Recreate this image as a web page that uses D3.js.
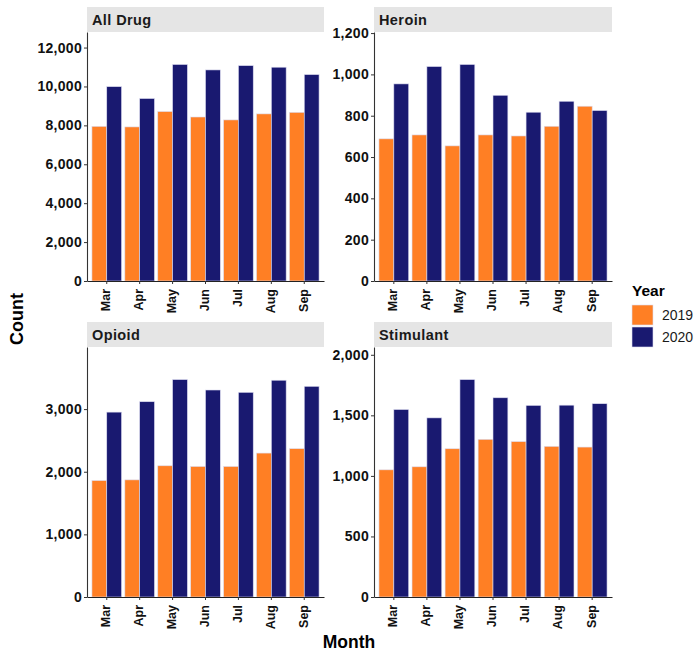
<!DOCTYPE html>
<html>
<head>
<meta charset="utf-8">
<script src="https://cdn.jsdelivr.net/npm/d3@7"></script>
<style>
  body { margin: 0; background: #fff; }
  svg { display: block; font-family: "Liberation Sans", Arial, sans-serif; }
</style>
</head>
<body>
<svg width="694" height="653"></svg>
<script>
const months = ['Mar', 'Apr', 'May', 'Jun', 'Jul', 'Aug', 'Sep'];
const years = ['2019', '2020'];
const panelNames = ['All Drug', 'Heroin', 'Opioid', 'Stimulant'];

const allDrug2019 = [7950, 7920, 8710, 8430, 8280, 8590, 8670];
const allDrug2020 = [9990, 9380, 11130, 10850, 11070, 10990, 10610];
const heroin2019 = [688, 707, 654, 707, 702, 749, 846];
const heroin2020 = [954, 1038, 1048, 899, 817, 870, 825];
const opioid2019 = [1859, 1870, 2095, 2084, 2084, 2298, 2368];
const opioid2020 = [2952, 3118, 3471, 3305, 3268, 3461, 3364];
const stimulant2019 = [1050, 1075, 1224, 1302, 1283, 1244, 1238];
const stimulant2020 = [1548, 1479, 1795, 1645, 1582, 1584, 1596];

const allDrugTicks = [0, 2000, 4000, 6000, 8000, 10000, 12000];
const heroinTicks = [0, 200, 400, 600, 800, 1000, 1200];
const opioidTicks = [0, 1000, 2000, 3000];
const stimulantTicks = [0, 500, 1000, 1500, 2000];

const colors = ['#FF7F24', '#191970'];

const svg = d3.select('svg');
const fmt = d3.format(',');
const font = '"Liberation Sans", Arial, sans-serif';

// panel boxes: plot area, strip sits above
const boxes = [
  { x0: 87, x1: 324, y0: 32, y1: 281 },
  { x0: 374, x1: 612, y0: 32, y1: 281 },
  { x0: 87, x1: 324, y0: 347, y1: 597 },
  { x0: 374, x1: 612, y0: 347, y1: 597 }
];
const series = [
  [allDrug2019, allDrug2020, allDrugTicks],
  [heroin2019, heroin2020, heroinTicks],
  [opioid2019, opioid2020, opioidTicks],
  [stimulant2019, stimulant2020, stimulantTicks]
];

panelNames.forEach((name, i) => {
  const b = boxes[i];
  const [v19, v20, ticks] = series[i];
  const rows = months.map((m, j) => ({ month: m, values: [v19[j], v20[j]] }));

  const x = d3.scaleBand().domain(months).range([b.x0, b.x1])
    .paddingInner(0.1).paddingOuter(0.15);
  const xSub = d3.scaleBand().domain(years).range([0, x.bandwidth()]);
  const y = d3.scaleLinear().domain([0, d3.max(v20.concat(v19)) * 1.15]).range([b.y1, b.y0]);

  // strip
  svg.append('rect')
    .attr('x', b.x0).attr('y', b.y0 - 25)
    .attr('width', b.x1 - b.x0).attr('height', 25)
    .attr('fill', '#e5e5e5');
  svg.append('text')
    .attr('x', b.x0 + 5).attr('y', b.y0 - 12.5)
    .attr('dy', '0.35em')
    .attr('font-size', 14.5).attr('font-weight', 'bold')
    .attr('letter-spacing', 0.4)
    .attr('fill', '#1a1a1a')
    .text(name);

  // bars
  const g = svg.append('g');
  g.selectAll('g').data(rows).join('g')
    .attr('transform', d => `translate(${x(d.month)},0)`)
    .selectAll('rect')
    .data(d => d.values.map((v, k) => ({ year: years[k], value: v, k })))
    .join('rect')
    .attr('x', d => xSub(d.year))
    .attr('y', d => y(d.value))
    .attr('width', xSub.bandwidth())
    .attr('height', d => y(0) - y(d.value))
    .attr('fill', d => colors[d.k])
    .attr('stroke', '#dcdcf0')
    .attr('stroke-width', 0.6);

  // y axis
  const ya = svg.append('g')
    .attr('transform', `translate(${b.x0},0)`)
    .call(d3.axisLeft(y).tickValues(ticks).tickFormat(fmt).tickSize(3).tickSizeOuter(0));
  ya.select('.domain').attr('stroke', '#333').attr('stroke-width', 1.1);
  ya.selectAll('.tick line').attr('stroke', '#333');
  ya.selectAll('.tick text')
    .attr('x', -5)
    .attr('font-size', 14).attr('font-weight', 'bold')
    .attr('letter-spacing', 0.3)
    .attr('fill', '#111')
    .attr('font-family', font);

  // x axis
  const xa = svg.append('g')
    .attr('transform', `translate(0,${b.y1})`)
    .call(d3.axisBottom(x).tickSize(3).tickSizeOuter(0));
  xa.select('.domain').attr('stroke', '#222').attr('stroke-width', 1.1);
  xa.selectAll('.tick line').attr('stroke', '#333');
  xa.selectAll('.tick text')
    .attr('transform', 'rotate(-90)')
    .attr('x', -8).attr('y', -1).attr('dy', '0.35em')
    .attr('text-anchor', 'end')
    .attr('font-size', 12.5).attr('font-weight', 'bold')
    .attr('fill', '#111')
    .attr('font-family', font);
});

// axis titles
svg.append('text')
  .attr('transform', 'translate(17,319) rotate(-90)')
  .attr('text-anchor', 'middle').attr('dy', '0.35em')
  .attr('font-size', 18).attr('font-weight', 'bold')
  .text('Count');
svg.append('text')
  .attr('x', 349).attr('y', 648)
  .attr('text-anchor', 'middle')
  .attr('font-size', 17.5).attr('font-weight', 'bold')
  .text('Month');

// legend
const legend = svg.append('g').attr('transform', 'translate(632,0)');
legend.append('text')
  .attr('x', 0).attr('y', 296)
  .attr('font-size', 15.5).attr('font-weight', 'bold')
  .text('Year');
const items = legend.selectAll('g.item').data(years).join('g')
  .attr('class', 'item')
  .attr('transform', (d, i) => `translate(0,${305 + i * 22})`);
items.append('rect')
  .attr('width', 21).attr('height', 20)
  .attr('fill', (d, i) => colors[i])
  .attr('stroke', '#dcdcf0').attr('stroke-width', 0.6);
items.append('text')
  .attr('x', 30).attr('y', 10).attr('dy', '0.35em')
  .attr('font-size', 14)
  .attr('fill', '#1a1a1a')
  .text(d => d);
</script>
</body>
</html>
